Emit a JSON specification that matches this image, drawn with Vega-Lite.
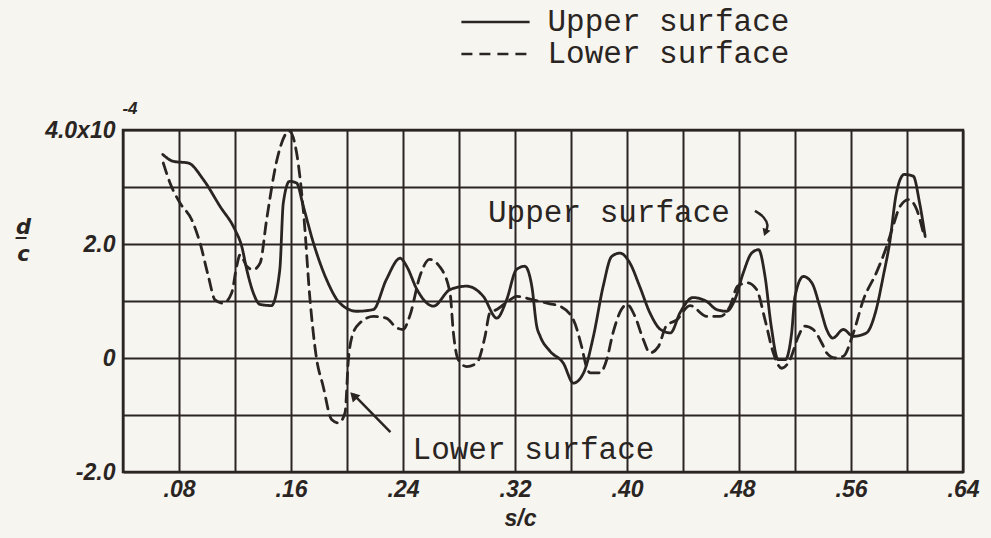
{
  "$schema": "https://vega.github.io/schema/vega-lite/v6.json",
  "width": 840,
  "height": 342,
  "autosize": {"type": "none"},
  "padding": {"left": 123, "top": 130, "right": 28, "bottom": 66},
  "background": "#f6f5f0",
  "config": {
    "view": {"stroke": "#2a2522", "strokeWidth": 2.5},
    "axis": {
      "domain": false,
      "ticks": false,
      "grid": true,
      "gridColor": "#2a2522",
      "gridOpacity": 1,
      "gridWidth": 2,
      "labelFont": "Liberation Sans",
      "labelFontStyle": "italic",
      "labelFontWeight": "bold",
      "labelFontSize": 23,
      "labelColor": "#2a2522",
      "labelFlush": false,
      "labelOverlap": false,
      "titleFont": "Liberation Sans",
      "titleFontStyle": "italic",
      "titleFontWeight": "bold",
      "titleFontSize": 23,
      "titleColor": "#2a2522"
    },
    "legend": {
      "orient": "none",
      "legendX": 355.5,
      "legendY": -125,
      "padding": 0,
      "symbolType": "M-2.2,0H2.2",
      "symbolSize": 961,
      "symbolStrokeWidth": 2.5,
      "symbolStrokeColor": "#2a2522",
      "symbolFillColor": "transparent",
      "labelFont": "Liberation Mono",
      "labelFontSize": 31,
      "labelColor": "#2a2522",
      "labelOffset": 35,
      "labelLimit": 0,
      "rowPadding": 0
    }
  },
  "encoding": {
    "x": {
      "field": "x",
      "type": "quantitative",
      "scale": {"domain": [0.04, 0.64], "nice": false, "zero": false},
      "axis": {
        "values": [0.04, 0.08, 0.12, 0.16, 0.2, 0.24, 0.28, 0.32, 0.36, 0.4, 0.44, 0.48, 0.52, 0.56, 0.6, 0.64],
        "labelExpr": "round(datum.value*100) % 8 == 0 ? replace(format(datum.value, '.2f'), /^0/, '') : ''",
        "labelPadding": 6,
        "title": "s/c",
        "titleX": 397,
        "titleY": 46,
        "titleBaseline": "middle",
        "titleAlign": "center"
      }
    },
    "y": {
      "field": "y",
      "type": "quantitative",
      "scale": {"domain": [-2, 4], "nice": false, "zero": false},
      "axis": {
        "values": [-2, -1, 0, 1, 2, 3, 4],
        "labelExpr": "datum.value == 4 ? '4.0x10' : datum.value == 2 ? '2.0' : datum.value == 0 ? '0' : datum.value == -2 ? '-2.0' : ''",
        "labelPadding": 8,
        "title": ["d̲", "c"],
        "titleFont": "DejaVu Sans",
        "titleFontSize": 21,
        "titleAngle": 0,
        "titleX": -100,
        "titleY": 97,
        "titleAlign": "center",
        "titleBaseline": "middle",
        "titleLineHeight": 27
      }
    }
  },
  "layer": [
    {
      "data": {
        "values": [
          {"series": "Upper surface", "x": 0.0684, "y": 3.57},
          {"series": "Upper surface", "x": 0.076, "y": 3.45},
          {"series": "Upper surface", "x": 0.0867, "y": 3.42},
          {"series": "Upper surface", "x": 0.0974, "y": 3.13},
          {"series": "Upper surface", "x": 0.1093, "y": 2.66},
          {"series": "Upper surface", "x": 0.12, "y": 2.25},
          {"series": "Upper surface", "x": 0.1248, "y": 1.96},
          {"series": "Upper surface", "x": 0.1284, "y": 1.55},
          {"series": "Upper surface", "x": 0.1331, "y": 1.14},
          {"series": "Upper surface", "x": 0.1379, "y": 0.94},
          {"series": "Upper surface", "x": 0.146, "y": 0.92},
          {"series": "Upper surface", "x": 0.152, "y": 1.55},
          {"series": "Upper surface", "x": 0.1545, "y": 2.72},
          {"series": "Upper surface", "x": 0.159, "y": 3.1},
          {"series": "Upper surface", "x": 0.164, "y": 3.07},
          {"series": "Upper surface", "x": 0.1688, "y": 2.66},
          {"series": "Upper surface", "x": 0.176, "y": 2.02},
          {"series": "Upper surface", "x": 0.1855, "y": 1.37},
          {"series": "Upper surface", "x": 0.195, "y": 0.96},
          {"series": "Upper surface", "x": 0.207, "y": 0.82},
          {"series": "Upper surface", "x": 0.2188, "y": 0.85},
          {"series": "Upper surface", "x": 0.228, "y": 1.37},
          {"series": "Upper surface", "x": 0.238, "y": 1.75},
          {"series": "Upper surface", "x": 0.2426, "y": 1.61},
          {"series": "Upper surface", "x": 0.25, "y": 1.2},
          {"series": "Upper surface", "x": 0.2617, "y": 0.91},
          {"series": "Upper surface", "x": 0.2736, "y": 1.2},
          {"series": "Upper surface", "x": 0.2855, "y": 1.26},
          {"series": "Upper surface", "x": 0.2974, "y": 1.08},
          {"series": "Upper surface", "x": 0.307, "y": 0.7},
          {"series": "Upper surface", "x": 0.314, "y": 1.02},
          {"series": "Upper surface", "x": 0.321, "y": 1.55},
          {"series": "Upper surface", "x": 0.327, "y": 1.61},
          {"series": "Upper surface", "x": 0.332, "y": 1.26},
          {"series": "Upper surface", "x": 0.3355, "y": 0.56},
          {"series": "Upper surface", "x": 0.338, "y": 0.38},
          {"series": "Upper surface", "x": 0.345, "y": 0.12},
          {"series": "Upper surface", "x": 0.3545, "y": -0.09},
          {"series": "Upper surface", "x": 0.3617, "y": -0.44},
          {"series": "Upper surface", "x": 0.369, "y": -0.26},
          {"series": "Upper surface", "x": 0.376, "y": 0.38},
          {"series": "Upper surface", "x": 0.383, "y": 1.26},
          {"series": "Upper surface", "x": 0.389, "y": 1.78},
          {"series": "Upper surface", "x": 0.395, "y": 1.84},
          {"series": "Upper surface", "x": 0.402, "y": 1.67},
          {"series": "Upper surface", "x": 0.409, "y": 1.26},
          {"series": "Upper surface", "x": 0.4164, "y": 0.79},
          {"series": "Upper surface", "x": 0.424, "y": 0.5},
          {"series": "Upper surface", "x": 0.431, "y": 0.44},
          {"series": "Upper surface", "x": 0.438, "y": 0.8},
          {"series": "Upper surface", "x": 0.447, "y": 1.06},
          {"series": "Upper surface", "x": 0.457, "y": 0.99},
          {"series": "Upper surface", "x": 0.464, "y": 0.85},
          {"series": "Upper surface", "x": 0.471, "y": 0.82},
          {"series": "Upper surface", "x": 0.477, "y": 1.02},
          {"series": "Upper surface", "x": 0.483, "y": 1.49},
          {"series": "Upper surface", "x": 0.489, "y": 1.84},
          {"series": "Upper surface", "x": 0.494, "y": 1.9},
          {"series": "Upper surface", "x": 0.4986, "y": 1.43},
          {"series": "Upper surface", "x": 0.503, "y": 0.56},
          {"series": "Upper surface", "x": 0.508, "y": -0.03},
          {"series": "Upper surface", "x": 0.513, "y": -0.03},
          {"series": "Upper surface", "x": 0.5176, "y": 0.44},
          {"series": "Upper surface", "x": 0.52, "y": 1.08},
          {"series": "Upper surface", "x": 0.526, "y": 1.43},
          {"series": "Upper surface", "x": 0.532, "y": 1.32},
          {"series": "Upper surface", "x": 0.538, "y": 0.88},
          {"series": "Upper surface", "x": 0.5426, "y": 0.5},
          {"series": "Upper surface", "x": 0.547, "y": 0.35},
          {"series": "Upper surface", "x": 0.5545, "y": 0.5},
          {"series": "Upper surface", "x": 0.5617, "y": 0.38},
          {"series": "Upper surface", "x": 0.571, "y": 0.44},
          {"series": "Upper surface", "x": 0.578, "y": 0.85},
          {"series": "Upper surface", "x": 0.583, "y": 1.43},
          {"series": "Upper surface", "x": 0.5876, "y": 2.02},
          {"series": "Upper surface", "x": 0.5924, "y": 2.89},
          {"series": "Upper surface", "x": 0.598, "y": 3.22},
          {"series": "Upper surface", "x": 0.6045, "y": 3.19},
          {"series": "Upper surface", "x": 0.609, "y": 2.72},
          {"series": "Upper surface", "x": 0.613, "y": 2.13},
          {"series": "Lower surface", "x": 0.0688, "y": 3.42},
          {"series": "Lower surface", "x": 0.0736, "y": 3.07},
          {"series": "Lower surface", "x": 0.0807, "y": 2.72},
          {"series": "Lower surface", "x": 0.089, "y": 2.43},
          {"series": "Lower surface", "x": 0.095, "y": 2.02},
          {"series": "Lower surface", "x": 0.101, "y": 1.43},
          {"series": "Lower surface", "x": 0.1057, "y": 1.02},
          {"series": "Lower surface", "x": 0.1116, "y": 0.96},
          {"series": "Lower surface", "x": 0.1176, "y": 1.14},
          {"series": "Lower surface", "x": 0.1212, "y": 1.61},
          {"series": "Lower surface", "x": 0.1236, "y": 1.81},
          {"series": "Lower surface", "x": 0.1284, "y": 1.61},
          {"series": "Lower surface", "x": 0.133, "y": 1.55},
          {"series": "Lower surface", "x": 0.138, "y": 1.67},
          {"series": "Lower surface", "x": 0.1426, "y": 2.43},
          {"series": "Lower surface", "x": 0.15, "y": 3.48},
          {"series": "Lower surface", "x": 0.1588, "y": 3.98},
          {"series": "Lower surface", "x": 0.164, "y": 3.6},
          {"series": "Lower surface", "x": 0.169, "y": 2.54},
          {"series": "Lower surface", "x": 0.1736, "y": 1.02},
          {"series": "Lower surface", "x": 0.178, "y": 0.03},
          {"series": "Lower surface", "x": 0.183, "y": -0.5},
          {"series": "Lower surface", "x": 0.189, "y": -1.08},
          {"series": "Lower surface", "x": 0.194, "y": -1.14},
          {"series": "Lower surface", "x": 0.1986, "y": -0.96},
          {"series": "Lower surface", "x": 0.201, "y": -0.03},
          {"series": "Lower surface", "x": 0.2036, "y": 0.38},
          {"series": "Lower surface", "x": 0.209, "y": 0.61},
          {"series": "Lower surface", "x": 0.219, "y": 0.73},
          {"series": "Lower surface", "x": 0.228, "y": 0.7},
          {"series": "Lower surface", "x": 0.2355, "y": 0.53},
          {"series": "Lower surface", "x": 0.24, "y": 0.5},
          {"series": "Lower surface", "x": 0.245, "y": 0.75},
          {"series": "Lower surface", "x": 0.252, "y": 1.43},
          {"series": "Lower surface", "x": 0.259, "y": 1.73},
          {"series": "Lower surface", "x": 0.266, "y": 1.61},
          {"series": "Lower surface", "x": 0.2736, "y": 1.14},
          {"series": "Lower surface", "x": 0.276, "y": 0.44},
          {"series": "Lower surface", "x": 0.2795, "y": -0.03},
          {"series": "Lower surface", "x": 0.2855, "y": -0.15},
          {"series": "Lower surface", "x": 0.2926, "y": -0.09},
          {"series": "Lower surface", "x": 0.2986, "y": 0.38},
          {"series": "Lower surface", "x": 0.302, "y": 0.79},
          {"series": "Lower surface", "x": 0.307, "y": 0.85},
          {"series": "Lower surface", "x": 0.3164, "y": 1.02},
          {"series": "Lower surface", "x": 0.3212, "y": 1.08},
          {"series": "Lower surface", "x": 0.333, "y": 1.02},
          {"series": "Lower surface", "x": 0.345, "y": 0.95},
          {"series": "Lower surface", "x": 0.352, "y": 0.91},
          {"series": "Lower surface", "x": 0.3617, "y": 0.67},
          {"series": "Lower surface", "x": 0.3676, "y": 0.2},
          {"series": "Lower surface", "x": 0.371, "y": -0.15},
          {"series": "Lower surface", "x": 0.3736, "y": -0.26},
          {"series": "Lower surface", "x": 0.3807, "y": -0.26},
          {"series": "Lower surface", "x": 0.3855, "y": -0.03},
          {"series": "Lower surface", "x": 0.39, "y": 0.44},
          {"series": "Lower surface", "x": 0.396, "y": 0.85},
          {"series": "Lower surface", "x": 0.4, "y": 0.94},
          {"series": "Lower surface", "x": 0.4057, "y": 0.73},
          {"series": "Lower surface", "x": 0.4117, "y": 0.32},
          {"series": "Lower surface", "x": 0.4164, "y": 0.09},
          {"series": "Lower surface", "x": 0.4224, "y": 0.2},
          {"series": "Lower surface", "x": 0.428, "y": 0.56},
          {"series": "Lower surface", "x": 0.4355, "y": 0.67},
          {"series": "Lower surface", "x": 0.445, "y": 0.92},
          {"series": "Lower surface", "x": 0.457, "y": 0.73},
          {"series": "Lower surface", "x": 0.4664, "y": 0.73},
          {"series": "Lower surface", "x": 0.4736, "y": 0.91},
          {"series": "Lower surface", "x": 0.479, "y": 1.26},
          {"series": "Lower surface", "x": 0.486, "y": 1.32},
          {"series": "Lower surface", "x": 0.4926, "y": 1.2},
          {"series": "Lower surface", "x": 0.4986, "y": 0.67},
          {"series": "Lower surface", "x": 0.5045, "y": 0.09},
          {"series": "Lower surface", "x": 0.5105, "y": -0.18},
          {"series": "Lower surface", "x": 0.5164, "y": -0.03},
          {"series": "Lower surface", "x": 0.5224, "y": 0.38},
          {"series": "Lower surface", "x": 0.527, "y": 0.56},
          {"series": "Lower surface", "x": 0.533, "y": 0.5},
          {"series": "Lower surface", "x": 0.54, "y": 0.22},
          {"series": "Lower surface", "x": 0.5426, "y": 0.09},
          {"series": "Lower surface", "x": 0.5486, "y": 0.0},
          {"series": "Lower surface", "x": 0.5545, "y": 0.03},
          {"series": "Lower surface", "x": 0.5617, "y": 0.44},
          {"series": "Lower surface", "x": 0.5688, "y": 1.02},
          {"series": "Lower surface", "x": 0.578, "y": 1.49},
          {"series": "Lower surface", "x": 0.5855, "y": 1.96},
          {"series": "Lower surface", "x": 0.59, "y": 2.31},
          {"series": "Lower surface", "x": 0.595, "y": 2.66},
          {"series": "Lower surface", "x": 0.6012, "y": 2.78},
          {"series": "Lower surface", "x": 0.607, "y": 2.6},
          {"series": "Lower surface", "x": 0.6117, "y": 2.19}
        ]
      },
      "mark": {"type": "line", "interpolate": "monotone", "color": "#2a2522", "strokeWidth": 2.8, "strokeCap": "round"},
      "encoding": {
        "strokeDash": {
          "field": "series",
          "type": "nominal",
          "scale": {"domain": ["Upper surface", "Lower surface"], "range": [[1, 0], [11, 7]]},
          "legend": {"title": null}
        }
      }
    },
    {
      "data": {
        "values": [
          {"x": 0.3871, "y": 2.54, "label": "Upper surface"},
          {"x": 0.3332, "y": -1.61, "label": "Lower surface"}
        ]
      },
      "mark": {"type": "text", "font": "Liberation Mono", "fontSize": 31, "color": "#2a2522", "align": "center", "baseline": "middle"},
      "encoding": {"text": {"field": "label"}}
    },
    {
      "data": {"values": [{"x": 0.231, "y": -1.3, "x2": 0.2046, "y2": -0.64}]},
      "mark": {"type": "rule", "color": "#2a2522", "strokeWidth": 2.5},
      "encoding": {"x2": {"field": "x2"}, "y2": {"field": "y2"}}
    },
    {
      "data": {"values": [{"x": 0.2046, "y": -0.66}]},
      "mark": {"type": "point", "shape": "triangle-up", "filled": true, "color": "#2a2522", "opacity": 1, "size": 110, "angle": -44}
    },
    {
      "data": {
        "values": [
          {"i": 1, "x": 0.4914, "y": 2.58},
          {"i": 2, "x": 0.4975, "y": 2.47},
          {"i": 3, "x": 0.5003, "y": 2.33},
          {"i": 4, "x": 0.4988, "y": 2.2}
        ]
      },
      "mark": {"type": "line", "interpolate": "cardinal", "color": "#2a2522", "strokeWidth": 2.5},
      "encoding": {"order": {"field": "i", "type": "quantitative"}}
    },
    {
      "data": {"values": [{"x": 0.4988, "y": 2.2}]},
      "mark": {"type": "point", "shape": "triangle-up", "filled": true, "color": "#2a2522", "opacity": 1, "size": 70, "angle": 200}
    },
    {
      "data": {"values": [{"x": 0.04, "y": 4, "label": "-4"}]},
      "mark": {"type": "text", "font": "Liberation Sans", "fontStyle": "italic", "fontWeight": "bold", "fontSize": 17, "color": "#2a2522", "align": "center", "baseline": "middle", "dx": 7, "dy": -21},
      "encoding": {"text": {"field": "label"}}
    }
  ]
}
